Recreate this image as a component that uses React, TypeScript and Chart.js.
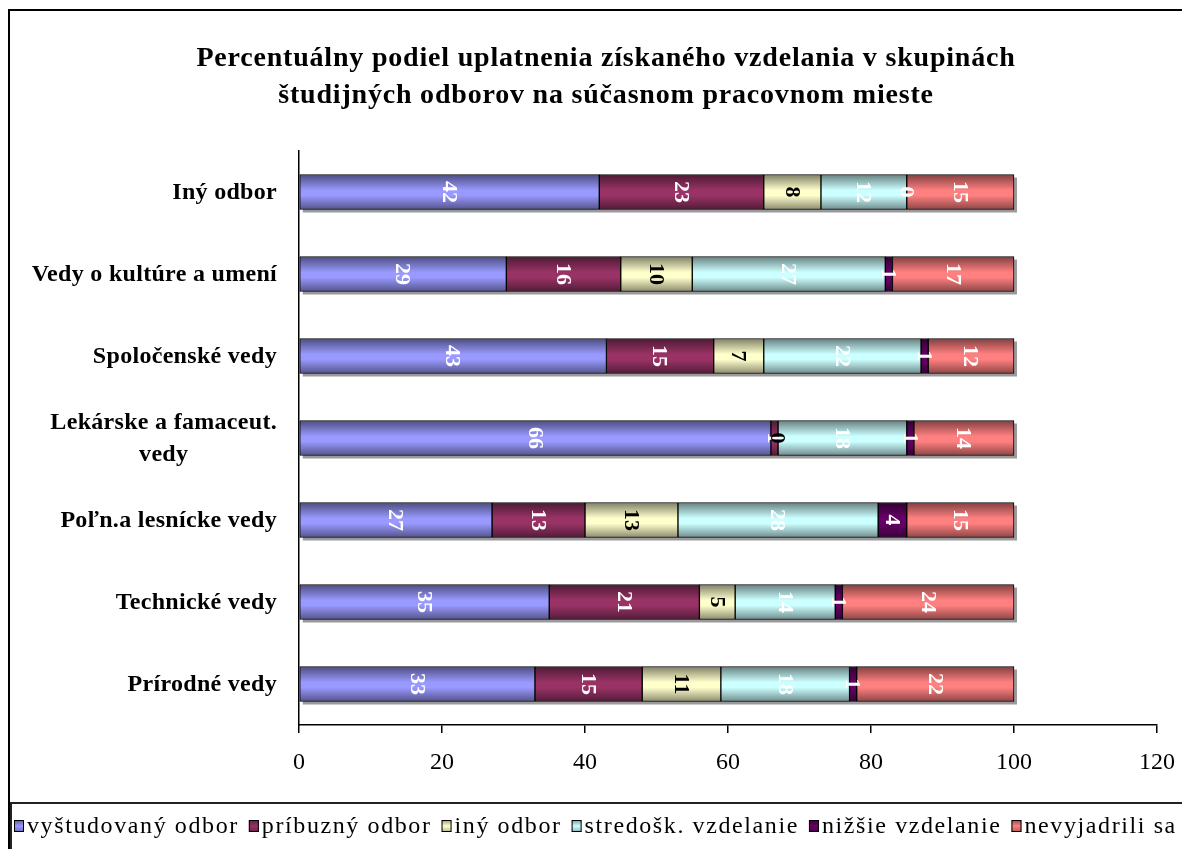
import { useEffect, useRef } from "react";
import { Chart, registerables } from "chart.js";

Chart.register(...registerables);

const categories: (string | string[])[] = [
  "Prírodné vedy",
  "Technické vedy",
  "Poľn.a lesnícke vedy",
  ["Lekárske a famaceut.", "vedy"],
  "Spoločenské vedy",
  "Vedy o kultúre a umení",
  "Iný odbor",
];

const seriesNames = [
  "vyštudovaný odbor",
  "príbuzný odbor",
  "iný odbor",
  "stredošk. vzdelanie",
  "nižšie vzdelanie",
  "nevyjadrili sa",
];

const vystudovanyOdbor = [33, 35, 27, 66, 43, 29, 42];
const pribuznyOdbor = [15, 21, 13, 1, 15, 16, 23];
const inyOdbor = [11, 5, 13, 0, 7, 10, 8];
const stredoskVzdelanie = [18, 14, 28, 18, 22, 27, 12];
const nizsieVzdelanie = [1, 1, 4, 1, 1, 1, 0];
const nevyjadriliSa = [22, 24, 15, 14, 12, 17, 15];

const seriesValues = [
  vystudovanyOdbor,
  pribuznyOdbor,
  inyOdbor,
  stredoskVzdelanie,
  nizsieVzdelanie,
  nevyjadriliSa,
];

const seriesColors = ["#9999FF", "#993366", "#FFFFCC", "#CCFFFF", "#660066", "#FF8080"];
const valueLabelColors = ["#FFFFFF", "#FFFFFF", "#000000", "#FFFFFF", "#FFFFFF", "#FFFFFF"];

const xMin = 0;
const xMax = 120;
const xStep = 20;

const titleLines = [
  "Percentuálny podiel uplatnenia získaného vzdelania v skupinách",
  "študijných odborov na súčasnom pracovnom mieste",
];

const SERIF = '"Liberation Serif", "Times New Roman", serif';
const BAR_THICKNESS = 35;

function shade(hex: string, f: number): string {
  const n = parseInt(hex.slice(1), 16);
  const r = Math.round(((n >> 16) & 255) * f);
  const g = Math.round(((n >> 8) & 255) * f);
  const b = Math.round((n & 255) * f);
  return `rgb(${r},${g},${b})`;
}

const framePlugin = {
  id: "frame",
  beforeDraw(chart: any) {
    const { ctx } = chart;
    ctx.save();
    ctx.fillStyle = "#FFFFFF";
    ctx.fillRect(0, 0, chart.width, chart.height);
    ctx.strokeStyle = "#000000";
    ctx.lineWidth = 2;
    ctx.strokeRect(1, 2, chart.width + 20, chart.height + 20);
    ctx.restore();
  },
};

const titlePlugin = {
  id: "titleText",
  afterDraw(chart: any) {
    const { ctx } = chart;
    ctx.save();
    ctx.font = `bold 28px ${SERIF}`;
    try {
      (ctx as any).letterSpacing = "0.8px";
    } catch (e) {}
    ctx.fillStyle = "#000000";
    ctx.textAlign = "center";
    ctx.textBaseline = "middle";
    titleLines.forEach((line, i) => {
      ctx.fillText(line, 598, 51 + i * 37);
    });
    ctx.restore();
  },
};

const shadowPlugin = {
  id: "barShadow",
  beforeDatasetsDraw(chart: any) {
    const { ctx } = chart;
    const first = chart.getDatasetMeta(0).data;
    const last = chart.getDatasetMeta(chart.data.datasets.length - 1).data;
    ctx.save();
    ctx.fillStyle = "#9a9a9a";
    first.forEach((el: any, i: number) => {
      const a = el.getProps(["base", "y", "height"], true);
      const b = last[i].getProps(["x"], true);
      const top = a.y - a.height / 2;
      ctx.fillRect(a.base + 3, top + 3, b.x - a.base, a.height);
    });
    ctx.restore();
  },
};

const valueLabelPlugin = {
  id: "valueLabels",
  afterDatasetsDraw(chart: any) {
    const { ctx } = chart;
    ctx.save();
    ctx.font = `bold 22px ${SERIF}`;
    ctx.textAlign = "center";
    ctx.textBaseline = "middle";
    chart.data.datasets.forEach((ds: any, di: number) => {
      const meta = chart.getDatasetMeta(di);
      meta.data.forEach((el: any, i: number) => {
        const p = el.getProps(["x", "y", "base"], true);
        const cx = (p.x + p.base) / 2;
        ctx.save();
        ctx.translate(cx, p.y);
        ctx.rotate(Math.PI / 2);
        ctx.fillStyle = valueLabelColors[di];
        ctx.fillText(String(ds.data[i]), 0, 1);
        ctx.restore();
      });
    });
    ctx.restore();
  },
};

const categoryLabelPlugin = {
  id: "categoryLabels",
  afterDraw(chart: any) {
    const { ctx } = chart;
    const yScale = chart.scales.y;
    const right = chart.chartArea.left - 22;
    const lineH = 32;
    ctx.save();
    ctx.font = `bold 24px ${SERIF}`;
    try {
      (ctx as any).letterSpacing = "0.3px";
    } catch (e) {}
    ctx.fillStyle = "#000000";
    ctx.textAlign = "center";
    ctx.textBaseline = "middle";
    (chart.data.labels as (string | string[])[]).forEach((lab, i) => {
      const lines = Array.isArray(lab) ? lab : [lab];
      const w = Math.max(...lines.map((l) => ctx.measureText(l).width));
      const cx = right - w / 2;
      const cy = yScale.getPixelForValue(i) + 1;
      lines.forEach((l, j) => {
        ctx.fillText(l, cx, cy + (j - (lines.length - 1) / 2) * lineH);
      });
    });
    ctx.restore();
  },
};

const legendPlugin = {
  id: "customLegend",
  afterDraw(chart: any) {
    const { ctx } = chart;
    const boxTop = 795;
    const cy = 818;
    ctx.save();
    ctx.strokeStyle = "#222222";
    ctx.lineWidth = 2;
    ctx.strokeRect(3, boxTop, chart.width + 20, 100);
    ctx.font = `24px ${SERIF}`;
    try {
      (ctx as any).letterSpacing = "1.6px";
    } catch (e) {}
    ctx.textBaseline = "middle";
    ctx.textAlign = "left";
    const mw = 10;
    const mh = 12;
    const gap = 3;
    const itemGap = 10;
    const items = chart.data.datasets.map((d: any, i: number) => ({
      text: d.label as string,
      color: seriesColors[i],
      w: ctx.measureText(d.label).width,
    }));
    let x = 6;
    items.forEach((it: any) => {
      const g = ctx.createLinearGradient(0, cy - mh / 2, 0, cy + mh / 2);
      g.addColorStop(0, shade(it.color, 0.6));
      g.addColorStop(0.5, it.color);
      g.addColorStop(1, shade(it.color, 0.7));
      ctx.fillStyle = g;
      ctx.fillRect(x, cy - mh / 2, mw, mh);
      ctx.strokeStyle = "#000000";
      ctx.lineWidth = 1;
      ctx.strokeRect(x + 0.5, cy - mh / 2 + 0.5, mw - 1, mh - 1);
      ctx.fillStyle = "#000000";
      ctx.fillText(it.text, x + mw + gap, cy + 1);
      x += mw + gap + it.w + itemGap;
    });
    ctx.restore();
  },
};

export default function App() {
  const canvasRef = useRef<HTMLCanvasElement | null>(null);

  useEffect(() => {
    if (!canvasRef.current) return;
    const datasets = seriesNames.map((name, di) => ({
      label: name,
      data: seriesValues[di],
      borderColor: "#000000",
      borderWidth: 1,
      borderSkipped: false as const,
      barThickness: BAR_THICKNESS,
      backgroundColor: (c: any) => {
        const base = seriesColors[di];
        if (c.type !== "data") return base;
        const chart = c.chart;
        const ys = chart.scales && chart.scales.y;
        if (!ys) return base;
        const y = ys.getPixelForValue(c.dataIndex);
        if (!isFinite(y)) return base;
        const h = BAR_THICKNESS / 2;
        const g = chart.ctx.createLinearGradient(0, y - h, 0, y + h);
        g.addColorStop(0, shade(base, 0.5));
        g.addColorStop(0.45, base);
        g.addColorStop(0.6, base);
        g.addColorStop(1, shade(base, 0.55));
        return g;
      },
    }));

    const chart = new Chart(canvasRef.current, {
      type: "bar",
      data: { labels: categories as any, datasets },
      options: {
        indexAxis: "y",
        animation: false,
        responsive: true,
        maintainAspectRatio: false,
        layout: { padding: { left: 0, right: 0, top: 143, bottom: 66 } },
        plugins: {
          legend: { display: false },
          tooltip: { enabled: false },
          title: { display: false },
        },
        scales: {
          x: {
            stacked: true,
            min: xMin,
            max: xMax,
            ticks: {
              stepSize: xStep,
              color: "#000000",
              font: { family: SERIF, size: 24 },
              padding: 15,
              maxRotation: 0,
            },
            grid: {
              display: true,
              drawOnChartArea: false,
              drawTicks: true,
              tickLength: 8,
              color: "#000000",
              lineWidth: 1.5,
            },
            border: { display: true, color: "#000000", width: 1.5 },
            afterFit: (s: any) => {
              s.height = 58;
              s.paddingRight = 25;
            },
          },
          y: {
            stacked: true,
            reverse: true,
            ticks: { display: false },
            grid: {
              display: false,
              drawOnChartArea: false,
              drawTicks: false,
            },
            border: { display: true, color: "#000000", width: 1.5 },
            afterFit: (s: any) => {
              s.width = 291;
            },
          },
        },
      },
      plugins: [framePlugin, shadowPlugin, valueLabelPlugin, categoryLabelPlugin, titlePlugin, legendPlugin],
    });
    return () => chart.destroy();
  }, []);

  return (
    <div style={{ position: "fixed", left: 8, top: 8, width: 1174, height: 841 }}>
      <canvas ref={canvasRef} />
    </div>
  );
}
